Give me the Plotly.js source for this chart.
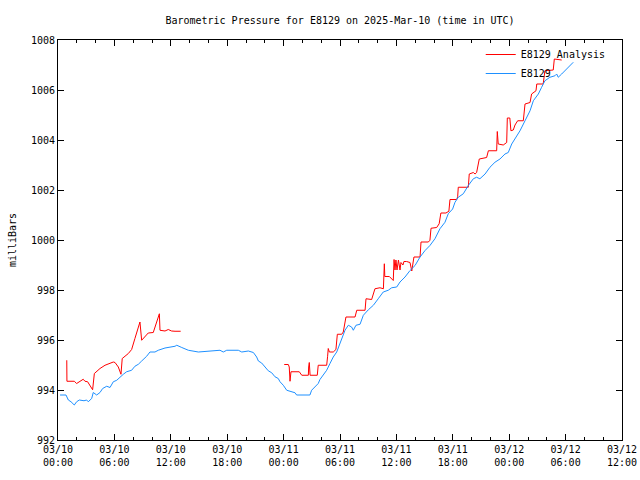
<!DOCTYPE html>
<html>
<head>
<meta charset="utf-8">
<script src="https://cdn.plot.ly/plotly-3.0.1.min.js"></script>
<style>html,body{margin:0;padding:0;background:#fff}#chart{width:640px;height:480px}</style>
</head>
<body>
<div id="chart"></div>
<script>
// E8129 Analysis (red) — null marks the gap
const anaTime = [
 '2025-03-10 00:56','2025-03-10 00:57','2025-03-10 01:44','2025-03-10 01:59','2025-03-10 02:41','2025-03-10 02:52',
 '2025-03-10 03:09','2025-03-10 03:41','2025-03-10 03:52','2025-03-10 04:28','2025-03-10 05:00','2025-03-10 05:32',
 '2025-03-10 05:53','2025-03-10 06:04','2025-03-10 06:25','2025-03-10 06:42','2025-03-10 06:50','2025-03-10 07:29',
 '2025-03-10 07:50','2025-03-10 08:11','2025-03-10 08:33','2025-03-10 08:43','2025-03-10 08:54','2025-03-10 09:15',
 '2025-03-10 09:36','2025-03-10 10:08','2025-03-10 10:30','2025-03-10 10:47','2025-03-10 10:51','2025-03-10 11:23',
 '2025-03-10 11:44','2025-03-10 12:05','2025-03-10 12:27','2025-03-10 13:03',
 '2025-03-10 18:00',
 '2025-03-11 00:04','2025-03-11 00:30','2025-03-11 00:36','2025-03-11 00:41','2025-03-11 00:47','2025-03-11 01:40',
 '2025-03-11 01:56','2025-03-11 02:38','2025-03-11 02:40','2025-03-11 02:44','2025-03-11 02:49','2025-03-11 03:35',
 '2025-03-11 03:41','2025-03-11 04:35','2025-03-11 04:41','2025-03-11 04:45','2025-03-11 04:52','2025-03-11 05:17',
 '2025-03-11 05:34','2025-03-11 05:43','2025-03-11 06:11','2025-03-11 06:21','2025-03-11 06:38','2025-03-11 07:36',
 '2025-03-11 07:47','2025-03-11 08:40','2025-03-11 08:46','2025-03-11 09:22','2025-03-11 09:43','2025-03-11 10:15',
 '2025-03-11 10:37','2025-03-11 10:43','2025-03-11 10:46','2025-03-11 11:15','2025-03-11 11:40','2025-03-11 11:45',
 '2025-03-11 11:51','2025-03-11 11:57','2025-03-11 12:04','2025-03-11 12:13','2025-03-11 12:23','2025-03-11 12:29',
 '2025-03-11 12:42','2025-03-11 12:48','2025-03-11 13:05','2025-03-11 13:27','2025-03-11 13:38','2025-03-11 13:52',
 '2025-03-11 14:31','2025-03-11 14:37','2025-03-11 15:24','2025-03-11 15:34','2025-03-11 15:41','2025-03-11 16:17',
 '2025-03-11 16:33','2025-03-11 16:44','2025-03-11 17:16','2025-03-11 17:35','2025-03-11 17:42','2025-03-11 18:25',
 '2025-03-11 18:31','2025-03-11 18:35','2025-03-11 19:39','2025-03-11 19:45','2025-03-11 20:11','2025-03-11 20:22',
 '2025-03-11 20:32','2025-03-11 20:49','2025-03-11 21:36','2025-03-11 21:47','2025-03-11 22:40','2025-03-11 22:44',
 '2025-03-11 22:50','2025-03-11 23:22','2025-03-11 23:44','2025-03-11 23:48','2025-03-12 00:04','2025-03-12 00:11',
 '2025-03-12 00:26','2025-03-12 00:37','2025-03-12 00:54','2025-03-12 01:30','2025-03-12 01:41','2025-03-12 02:13',
 '2025-03-12 02:23','2025-03-12 02:51','2025-03-12 02:56','2025-03-12 03:37','2025-03-12 03:48','2025-03-12 04:41',
 '2025-03-12 04:48','2025-03-12 05:35'
];
const anaVal = [
 995.19,994.35,994.35,994.26,994.43,994.35,
 994.33,994.01,994.66,994.86,994.99,995.06,
 995.12,995.10,994.92,994.63,995.26,995.46,
 995.62,996.06,996.46,996.72,995.99,996.12,
 996.28,996.30,996.72,997.05,996.39,996.36,
 996.42,996.36,996.35,996.35,
 null,
 995.02,995.02,994.92,994.35,994.73,994.73,
 994.59,994.59,994.92,995.10,994.59,994.59,
 994.99,994.99,995.35,995.66,995.52,995.52,
 995.62,996.23,996.23,996.32,996.92,996.92,
 997.19,997.19,997.65,997.62,998.05,998.09,
 998.05,999.05,998.54,998.54,998.38,999.22,
 998.80,999.20,998.80,999.20,998.80,999.10,
 999.00,999.14,999.14,999.10,998.76,999.32,
 999.32,999.92,999.92,999.99,1000.47,1000.50,
 1000.65,1001.08,1001.08,1001.15,1001.62,1001.62,
 1001.73,1002.11,1002.11,1002.64,1002.70,1002.64,
 1002.70,1003.24,1003.30,1003.57,1003.57,1004.34,
 1003.84,1003.80,1003.90,1004.88,1004.88,1004.37,
 1004.40,1004.60,1004.77,1004.77,1005.44,1005.50,
 1005.84,1005.97,1006.24,1006.24,1006.77,1006.80,
 1007.24,1007.20
];

// E8129 observations (blue)
const obsTime = [
 '2025-03-10 00:13','2025-03-10 00:51','2025-03-10 01:06','2025-03-10 01:23','2025-03-10 01:44','2025-03-10 01:59',
 '2025-03-10 02:16','2025-03-10 02:46','2025-03-10 03:03','2025-03-10 03:13','2025-03-10 03:35','2025-03-10 03:45',
 '2025-03-10 04:07','2025-03-10 04:28','2025-03-10 04:45','2025-03-10 05:11','2025-03-10 05:32','2025-03-10 05:53',
 '2025-03-10 06:15','2025-03-10 06:36','2025-03-10 06:57','2025-03-10 07:18','2025-03-10 07:50','2025-03-10 08:11',
 '2025-03-10 08:33','2025-03-10 08:54','2025-03-10 09:26','2025-03-10 09:47','2025-03-10 10:19','2025-03-10 10:40',
 '2025-03-10 11:23','2025-03-10 12:27','2025-03-10 12:38','2025-03-10 13:10','2025-03-10 13:52','2025-03-10 14:56',
 '2025-03-10 16:10','2025-03-10 17:14','2025-03-10 17:35','2025-03-10 17:57','2025-03-10 19:11','2025-03-10 19:33',
 '2025-03-10 20:15','2025-03-10 20:47','2025-03-10 21:08','2025-03-10 21:19','2025-03-10 21:40','2025-03-10 22:01',
 '2025-03-10 22:22','2025-03-10 22:44','2025-03-10 23:05','2025-03-10 23:26','2025-03-10 23:37','2025-03-10 23:58',
 '2025-03-11 00:20','2025-03-11 00:41','2025-03-11 01:13','2025-03-11 01:23','2025-03-11 02:48','2025-03-11 02:59',
 '2025-03-11 03:20','2025-03-11 03:41','2025-03-11 03:52','2025-03-11 04:13','2025-03-11 04:35','2025-03-11 04:56',
 '2025-03-11 05:17','2025-03-11 05:39','2025-03-11 06:00','2025-03-11 06:21','2025-03-11 06:32','2025-03-11 06:53',
 '2025-03-11 07:14','2025-03-11 07:25','2025-03-11 07:42','2025-03-11 08:08','2025-03-11 08:29','2025-03-11 09:01',
 '2025-03-11 09:33','2025-03-11 10:04','2025-03-11 10:36','2025-03-11 11:08','2025-03-11 11:30','2025-03-11 12:02',
 '2025-03-11 12:23','2025-03-11 12:55','2025-03-11 13:27','2025-03-11 13:59','2025-03-11 14:31','2025-03-11 15:03',
 '2025-03-11 15:34','2025-03-11 16:06','2025-03-11 16:38','2025-03-11 17:10','2025-03-11 17:31','2025-03-11 17:59',
 '2025-03-11 18:14','2025-03-11 18:35','2025-03-11 19:07','2025-03-11 19:39','2025-03-11 20:11','2025-03-11 20:32',
 '2025-03-11 20:53','2025-03-11 21:26','2025-03-11 21:57','2025-03-11 22:29','2025-03-11 23:01','2025-03-11 23:33',
 '2025-03-11 23:54','2025-03-12 00:16','2025-03-12 00:37','2025-03-12 01:09','2025-03-12 01:41','2025-03-12 02:13',
 '2025-03-12 02:34','2025-03-12 03:06','2025-03-12 03:27','2025-03-12 03:48','2025-03-12 04:20','2025-03-12 04:52',
 '2025-03-12 05:03','2025-03-12 05:13','2025-03-12 05:35','2025-03-12 05:56','2025-03-12 06:28','2025-03-12 06:49'
];
const obsVal = [
 993.80,993.80,993.60,993.53,993.40,993.53,
 993.60,993.57,993.60,993.53,993.66,993.90,
 993.80,993.90,994.06,994.15,994.10,994.33,
 994.39,994.53,994.63,994.73,994.79,994.95,
 995.03,995.16,995.35,995.52,995.52,995.59,
 995.68,995.75,995.79,995.70,995.59,995.52,
 995.56,995.59,995.52,995.59,995.59,995.52,
 995.56,995.50,995.32,995.16,995.08,994.92,
 994.77,994.69,994.53,994.46,994.33,994.19,
 993.99,993.95,993.89,993.80,993.80,993.99,
 994.13,994.26,994.42,994.59,994.79,995.06,
 995.32,995.52,995.86,996.19,996.39,996.59,
 996.52,996.39,996.59,996.63,996.99,997.21,
 997.39,997.65,997.92,997.99,998.09,998.12,
 998.32,998.52,998.78,998.98,999.32,999.58,
 999.78,1000.05,1000.45,1000.71,1001.05,1001.24,
 1001.51,1001.71,1001.85,1002.18,1002.45,1002.51,
 1002.45,1002.64,1002.91,1003.11,1003.24,1003.44,
 1003.50,1003.84,1004.04,1004.37,1004.77,1005.17,
 1005.57,1005.84,1006.11,1006.37,1006.51,1006.57,
 1006.64,1006.51,1006.64,1006.77,1006.97,1007.11
];

const xTickVals = ['2025-03-10 00:00','2025-03-10 06:00','2025-03-10 12:00','2025-03-10 18:00','2025-03-11 00:00',
 '2025-03-11 06:00','2025-03-11 12:00','2025-03-11 18:00','2025-03-12 00:00','2025-03-12 06:00','2025-03-12 12:00'];
const xTickText = ['03/10<br>00:00','03/10<br>06:00','03/10<br>12:00','03/10<br>18:00','03/11<br>00:00',
 '03/11<br>06:00','03/11<br>12:00','03/11<br>18:00','03/12<br>00:00','03/12<br>06:00','03/12<br>12:00'];
const yTickVals = [992,994,996,998,1000,1002,1004,1006,1008];

const FONT = 'DejaVu Sans Mono, monospace';

const traces = [
  {x: anaTime, y: anaVal, type: 'scatter', mode: 'lines', name: 'E8129 Analysis',
   line: {color: '#ff0000', width: 1}, connectgaps: false},
  {x: obsTime, y: obsVal, type: 'scatter', mode: 'lines', name: 'E8129',
   line: {color: '#1e90ff', width: 1}}
];

const layout = {
  width: 640, height: 480,
  paper_bgcolor: '#ffffff', plot_bgcolor: '#ffffff',
  margin: {l: 58, r: 18, t: 40, b: 40},
  font: {family: FONT, size: 10, color: '#000'},
  title: {text: 'Barometric Pressure for E8129 on 2025-Mar-10 (time in UTC)',
          x: 0.5, xref: 'paper', y: 1 - 20/480, yref: 'container', yanchor: 'middle',
          font: {family: FONT, size: 10, color: '#000'}},
  showlegend: true,
  legend: {x: 0.98, xanchor: 'right', y: 1, yanchor: 'top', bgcolor: 'rgba(0,0,0,0)',
           font: {family: FONT, size: 10, color: '#000'}, tracegroupgap: 0, itemwidth: 30},
  xaxis: {type: 'date', range: ['2025-03-10 00:00', '2025-03-12 12:00'],
          tickmode: 'array', tickvals: xTickVals, ticktext: xTickText,
          ticks: 'inside', ticklen: 6, tickcolor: '#000', tickwidth: 1,
          minor: {dtick: 7200000, tick0: '2025-03-10 00:00', ticks: 'inside', ticklen: 3, tickcolor: '#000', showgrid: false},
          showline: true, linecolor: '#000', linewidth: 1, mirror: 'ticks',
          showgrid: false, zeroline: false, fixedrange: true,
          tickfont: {family: FONT, size: 10, color: '#000'}},
  yaxis: {range: [992, 1008], tickmode: 'array', tickvals: yTickVals,
          ticks: 'inside', ticklen: 6, tickcolor: '#000', tickwidth: 1,
          showline: true, linecolor: '#000', linewidth: 1, mirror: 'ticks',
          showgrid: false, zeroline: false, fixedrange: true,
          title: {text: 'milliBars', font: {family: FONT, size: 10, color: '#000'}, standoff: 12},
          tickfont: {family: FONT, size: 10, color: '#000'}}
};

Plotly.newPlot('chart', traces, layout, {staticPlot: true, displayModeBar: false});
</script>
</body>
</html>
